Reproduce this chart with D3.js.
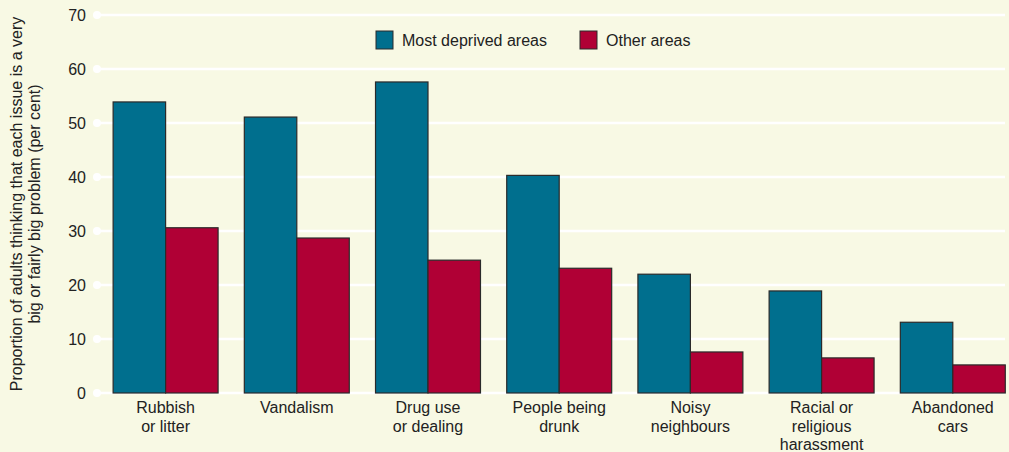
<!DOCTYPE html>
<html><head><meta charset="utf-8">
<script src="https://cdn.jsdelivr.net/npm/d3@7"></script>
<style>body{margin:0;background:#f8f9e4;}svg{display:block;font-family:"Liberation Sans",Arial,sans-serif;}</style>
</head><body>
<svg id="c" width="1009" height="452"></svg>
<script>
const categories = [["Rubbish","or litter"],["Vandalism"],["Drug use","or dealing"],["People being","drunk"],["Noisy","neighbours"],["Racial or","religious","harassment"],["Abandoned","cars"]];
const seriesNames = ["Most deprived areas","Other areas"];
const mostDeprived = [53.9, 51.1, 57.6, 40.3, 22.0, 18.9, 13.1];
const otherAreas = [30.6, 28.7, 24.6, 23.1, 7.6, 6.5, 5.2];
const yTicks = [0,10,20,30,40,50,60,70];
const colors = ["#006f8e","#b00035"];

const svg = d3.select("#c");
svg.append("rect").attr("width",1009).attr("height",452).attr("fill","#f8f9e4");
const y = d3.scaleLinear().domain([0,70]).range([393,15]);
const x = d3.scaleBand().domain(d3.range(categories.length)).range([100,1018.4]).paddingInner(0.2).paddingOuter(0.1);
const xs = d3.scaleBand().domain([0,1]).range([0,x.bandwidth()]);

// gridlines
const g = svg.append("g");
yTicks.forEach(t=>{
  g.append("line").attr("x1",98).attr("x2",1005).attr("y1",y(t)).attr("y2",y(t)).attr("stroke","#fff").attr("stroke-width",2.5);
  g.append("circle").attr("cx",97).attr("cy",y(t)).attr("r",4).attr("fill","#fff");
  g.append("text").attr("x",86).attr("y",y(t)).attr("dy","0.35em").attr("text-anchor","end").attr("font-size",16).attr("fill","#222").text(t);
});

const series = [mostDeprived, otherAreas];
series.forEach((vals,si)=>{
  svg.append("g").selectAll("rect").data(vals).join("rect")
    .attr("x",(d,i)=>x(i)+xs(si)).attr("width",xs.bandwidth())
    .attr("y",d=>y(d)).attr("height",d=>y(0)-y(d))
    .attr("fill",colors[si]).attr("stroke","#2a2a2a").attr("stroke-width",1.2);
});

// category labels
categories.forEach((lines,i)=>{
  const t = svg.append("text").attr("text-anchor","middle").attr("font-size",16).attr("fill","#222");
  lines.forEach((l,j)=>t.append("tspan").attr("x",x(i)+x.bandwidth()/2).attr("y",413+j*18.5).text(l));
});

// y label
const yl = svg.append("text").attr("transform","translate(0,204) rotate(-90)").attr("text-anchor","middle").attr("font-size",16).attr("fill","#222");
yl.append("tspan").attr("x",0).attr("y",22).text("Proportion of adults thinking that each issue is a very");
yl.append("tspan").attr("x",0).attr("y",40).text("big or fairly big problem (per cent)");

// legend
const legX = [376, 580];
seriesNames.forEach((n,i)=>{
  svg.append("rect").attr("x",legX[i]).attr("y",31).attr("width",17).attr("height",18).attr("fill",colors[i]).attr("stroke","#2a2a2a").attr("stroke-width",1);
  svg.append("text").attr("x",legX[i]+26).attr("y",40).attr("dy","0.35em").attr("font-size",16).attr("fill","#222").text(n);
});
</script>
</body></html>
